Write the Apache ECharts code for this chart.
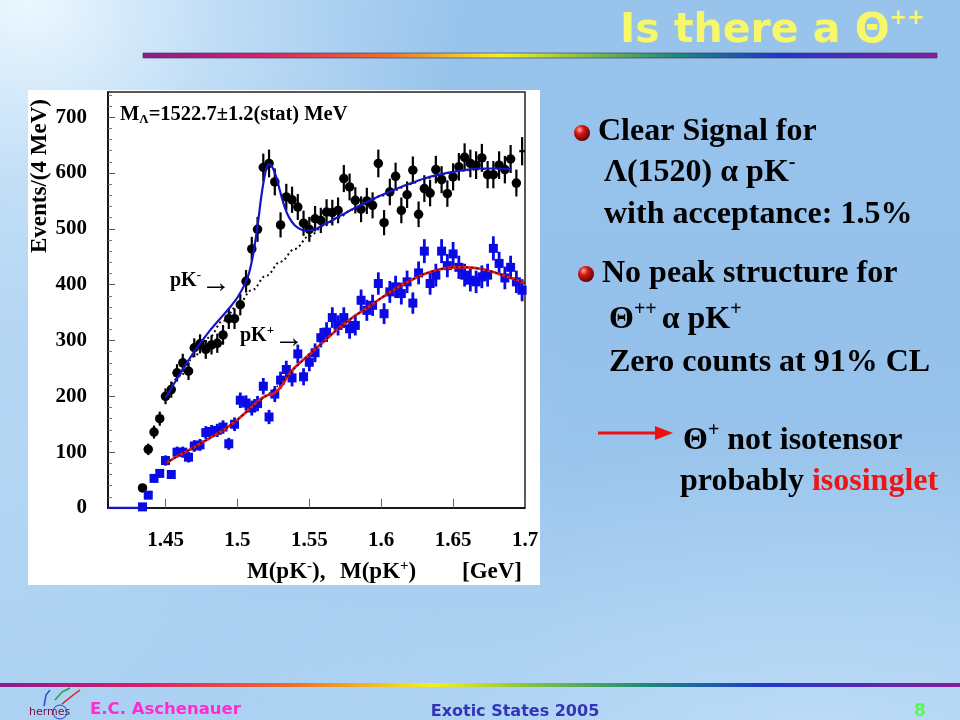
<!DOCTYPE html>
<html><head><meta charset="utf-8">
<script src="https://cdn.jsdelivr.net/npm/echarts@6/dist/echarts.min.js"></script>
<style>
html,body{margin:0;padding:0;width:960px;height:720px;overflow:hidden;}
body{
  background:
    radial-gradient(ellipse 45% 55% at 3% 0%, rgba(240,250,255,0.95) 0%, rgba(215,236,252,0.6) 45%, rgba(190,222,248,0) 100%),
    radial-gradient(ellipse 70% 45% at 85% 105%, rgba(200,228,250,0.7) 0%, rgba(180,215,245,0) 100%),
    radial-gradient(ellipse 60% 70% at 0% 60%, rgba(200,228,250,0.6) 0%, rgba(180,215,245,0) 100%),
    linear-gradient(180deg, #98c4ec 0%, #94c0ea 45%, #a3cbef 100%);
}
#c{width:960px;height:720px;}
</style></head><body><div id="c"></div>
<script>
// ---- data ----
const massBins = [1.434,1.438,1.442,1.446,1.450,1.454,1.458,1.462,1.466,1.470,1.474,1.478,1.482,1.486,1.490,1.494,1.498,
  1.502,1.506,1.510,1.514,1.518,1.522,1.526,1.530,1.534,1.538,1.542,1.546,1.550,1.554,1.558,1.562,1.566,1.570,1.574,1.578,
  1.582,1.586,1.590,1.594,1.598,1.602,1.606,1.610,1.614,1.618,1.622,1.626,1.630,1.634,1.638,1.642,1.646,1.650,1.654,1.658,
  1.662,1.666,1.670,1.674,1.678,1.682,1.686,1.690,1.694,1.698];
const countsKMinus = [36,105,136,160,200,212,242,260,245,287,294,284,292,295,310,339,339,
  364,406,464,499,610,617,584,507,557,552,539,510,499,518,515,530,529,533,590,575,
  551,535,550,542,617,511,566,594,533,561,605,526,572,564,606,588,563,593,611,628,
  617,614,627,597,597,614,606,625,582,639];
const countsKPlus = [2,23,53,62,85,60,100,100,91,111,113,135,137,139,145,115,150,
  193,188,179,187,218,163,204,229,248,233,276,235,261,278,305,315,341,327,341,321,
  327,372,354,363,402,348,387,396,384,405,367,421,460,402,417,460,434,455,431,417,
  408,405,414,417,465,438,412,431,405,390];
const fitKMinus = [[1.45,197],[1.46,240],[1.47,280],[1.48,315],[1.49,345],[1.495,360],[1.50,377],[1.505,400],
  [1.508,420],[1.511,455],[1.514,505],[1.517,565],[1.520,607],[1.522,616],[1.524,612],[1.527,593],[1.530,564],
  [1.533,538],[1.536,520],[1.540,506],[1.545,498],[1.55,497],[1.555,500],[1.56,507],[1.57,521],[1.58,535],
  [1.59,548],[1.60,560],[1.61,571],[1.62,581],[1.63,590],[1.64,597],[1.65,602],[1.66,606],[1.67,608],[1.68,608],[1.69,607]];
const bgKMinus = [[1.45,197],[1.46,236],[1.47,272],[1.48,305],[1.49,335],[1.50,362],[1.51,390],[1.52,416],[1.53,441],
  [1.54,464],[1.55,487],[1.56,505],[1.57,520],[1.58,534],[1.59,547],[1.60,559],[1.61,570],[1.62,580],[1.63,589],
  [1.64,596],[1.65,601],[1.66,605],[1.67,607],[1.68,607],[1.69,606]];
const fitKPlus = [[1.45,80],[1.46,95],[1.47,109],[1.48,124],[1.49,139],[1.50,158],[1.51,181],[1.515,193],[1.52,201],
  [1.525,205],[1.53,216],[1.535,236],[1.54,252],[1.55,275],[1.56,298],[1.57,321],[1.58,341],[1.59,358],[1.60,376],
  [1.61,393],[1.62,407],[1.63,419],[1.64,427],[1.65,431],[1.66,431],[1.67,428],[1.68,421],[1.69,412],[1.70,403]];
const bgKPlus = [[1.45,80],[1.46,95],[1.47,109],[1.48,124],[1.49,139],[1.50,158],[1.51,180],[1.52,201],[1.53,223],
  [1.54,250],[1.55,275],[1.56,298],[1.57,321],[1.58,341],[1.59,358],[1.60,376],[1.61,393],[1.62,407],[1.63,419],
  [1.64,427],[1.65,431],[1.66,431],[1.67,428],[1.68,421],[1.69,412],[1.70,403]];
const belowThreshold = [[1.41,0],[1.435,0]];
const xTickValues = [1.45,1.5,1.55,1.6,1.65,1.7];
const yTickValues = [0,100,200,300,400,500,600,700];
const yMinorTicks = [20,40,60,80,120,140,160,180,220,240,260,280,320,340,360,380,420,440,460,480,
  520,540,560,580,620,640,660,680,720,740];

// ---- chart ----
const SERIF = '"Liberation Serif","Times New Roman",serif';
const COMIC = '"DejaVu Sans",sans-serif';
const chart = echarts.init(document.getElementById('c'), null, {renderer:'canvas'});

function errorBars(counts, color, width) {
  return {
    type:'custom', silent:true, clip:true, z:3,
    data: massBins.map((m,i)=>[m, counts[i]]),
    renderItem(params, api) {
      const x = api.value(0), y = api.value(1);
      const e = Math.sqrt(y);
      const p1 = api.coord([x, y+e]), p2 = api.coord([x, Math.max(0, y-e)]);
      const h1 = api.coord([x-0.002, y]), h2 = api.coord([x+0.002, y]);
      return {type:'group', children:[
        {type:'line', shape:{x1:p1[0],y1:p1[1],x2:p2[0],y2:p2[1]}, style:{stroke:color, lineWidth:width}},
        {type:'line', shape:{x1:h1[0],y1:h1[1],x2:h2[0],y2:h2[1]}, style:{stroke:color, lineWidth:width}}
      ]};
    }
  };
}

const mainTok = {fontFamily:SERIF, fontWeight:'bold', fontSize:32, lineHeight:40, fill:'#000'};
const supTok = {fontFamily:SERIF, fontWeight:'bold', fontSize:20, lineHeight:20, verticalAlign:'top', fill:'#000'};
function rt(x, y, text, rich, extra) {
  return Object.assign({type:'text', x:x, y:y, z:100, style:{text:text, rich:rich,
    align:'left', textAlign:'left', verticalAlign:'middle', textVerticalAlign:'middle'}}, extra||{});
}
function bullet(cx, cy) {
  return {type:'circle', z:100, shape:{cx:cx, cy:cy, r:8}, style:{
    fill: new echarts.graphic.RadialGradient(0.35,0.3,0.75,[
      {offset:0,color:'#ffb0a0'},{offset:0.35,color:'#d81818'},{offset:1,color:'#5a0000'}])}};
}
const rainbowStops = [
  {offset:0,color:'#8a1c8c'},{offset:0.15,color:'#d8206c'},{offset:0.3,color:'#ee6a2a'},
  {offset:0.45,color:'#f4f020'},{offset:0.56,color:'#7cc040'},{offset:0.67,color:'#1f8a7a'},
  {offset:0.8,color:'#2038d0'},{offset:1,color:'#8a1ca0'}];
const axisTitleTok = {
  a:{fontFamily:SERIF, fontWeight:'bold', fontSize:23, lineHeight:26, fill:'#000'},
  s:{fontFamily:SERIF, fontWeight:'bold', fontSize:15, lineHeight:14, verticalAlign:'top', fill:'#000'}};
const arrowLabelTok = {
  a:{fontFamily:SERIF, fontWeight:'bold', fontSize:20, lineHeight:24, fill:'#000'},
  s:{fontFamily:SERIF, fontWeight:'bold', fontSize:13, lineHeight:13, verticalAlign:'top', fill:'#000'},
  r:{fontFamily:SERIF, fontWeight:'normal', fontSize:30, lineHeight:22, verticalAlign:'top', fill:'#000'}};

const option = {
  backgroundColor:'transparent',
  animation:false,
  grid:{left:108, top:92, width:417, height:416, show:true, borderColor:'#222', borderWidth:1.5, backgroundColor:'#fff'},
  xAxis:{type:'value', min:1.41, max:1.70,
    axisLine:{show:true, onZero:false, lineStyle:{color:'#000', width:1.5}},
    axisTick:{show:true, inside:true, length:9, customValues:xTickValues, lineStyle:{color:'#666', width:1}},
    axisLabel:{customValues:xTickValues, margin:22, formatter:v=>String(+(+v).toFixed(2)),
      fontFamily:SERIF, fontWeight:'bold', fontSize:21, color:'#000'},
    splitLine:{show:false}},
  yAxis:[
    {type:'value', min:0, max:745, position:'left',
      axisLine:{show:true, lineStyle:{color:'#000', width:1.5}},
      axisTick:{show:true, inside:true, length:7, customValues:yTickValues, lineStyle:{color:'#555', width:1}},
      axisLabel:{customValues:yTickValues, margin:21, fontFamily:SERIF, fontWeight:'bold', fontSize:21, color:'#000'},
      splitLine:{show:false}},
    {type:'value', min:0, max:745, position:'left',
      axisLine:{show:false},
      axisTick:{show:true, inside:true, length:4, customValues:yMinorTicks, lineStyle:{color:'#777', width:1}},
      axisLabel:{show:false}, splitLine:{show:false}}
  ],
  series:[
    errorBars(countsKMinus, '#000', 2.2),
    {type:'scatter', silent:true, z:4, symbol:'circle', symbolSize:(v)=> v[0] > 1.697 ? 0 : 9.5,
      itemStyle:{color:'#000', opacity:1}, data: massBins.map((m,i)=>[m, countsKMinus[i]])},
    errorBars(countsKPlus, '#0a0ae6', 2.8),
    {type:'scatter', silent:true, z:4, symbol:'rect', symbolSize:9,
      itemStyle:{color:'#0a0ae6', opacity:1}, data: massBins.map((m,i)=>[m, countsKPlus[i]])},
    {type:'line', silent:true, z:5, data:belowThreshold, showSymbol:false, symbol:'none',
      lineStyle:{color:'#1515d0', width:2.5}},
    {type:'line', silent:true, z:5, data:bgKMinus, smooth:0.4, smoothMonotone:'x', symbol:'none',
      lineStyle:{color:'#111', width:2, type:[2,3]}},
    {type:'line', silent:true, z:6, data:fitKMinus, smooth:0.25, symbol:'none',
      lineStyle:{color:'#1515c8', width:2.2}},
    {type:'line', silent:true, z:5, data:fitKPlus, smooth:0.3, symbol:'none',
      lineStyle:{color:'#e01a1a', width:2.6}},
    {type:'line', silent:true, z:6, data:bgKPlus, smooth:0.3, symbol:'none',
      lineStyle:{color:'#200000', width:1.2, type:[2,3]}}
  ],
  graphic:[
    {type:'rect', z:-100, shape:{x:28, y:90, width:512, height:495}, style:{fill:'#ffffff'}},
    {type:'rect', z:50, shape:{x:143, y:53, width:794, height:5},
      style:{fill:new echarts.graphic.LinearGradient(0,0,1,0,rainbowStops), stroke:'#3a3050', lineWidth:0.6}},
    {type:'rect', z:50, shape:{x:0, y:683, width:960, height:4},
      style:{fill:new echarts.graphic.LinearGradient(0,0,1,0,rainbowStops)}},
    // title
    rt(620, 31, '{t|Is there a Θ}{s|++}', {
      t:{fontFamily:COMIC, fontWeight:'bold', fontSize:41, lineHeight:46, fill:'#f7f76a'},
      s:{fontFamily:COMIC, fontWeight:'bold', fontSize:21, lineHeight:22, verticalAlign:'top', fill:'#f7f76a'}}),
    // y axis name
    {type:'text', z:100, x:40, y:176, rotation:Math.PI/2, style:{text:'Events/(4 MeV)',
      font:'bold 23px '+SERIF, fill:'#000', align:'center', textAlign:'center', verticalAlign:'middle', textVerticalAlign:'middle'}},
    // x axis name
    rt(247, 572, '{a|M(pK}{s|-}{a|),}', axisTitleTok),
    rt(340, 572, '{a|M(pK}{s|+}{a|)}', axisTitleTok),
    rt(462, 572, '{a|[GeV]}', axisTitleTok),
    // mass annotation
    rt(120, 115, '{a|M}{b|Λ}{a|=1522.7±1.2(stat) MeV}', {
      a:{fontFamily:SERIF, fontWeight:'bold', fontSize:20.5, lineHeight:22, fill:'#000'},
      b:{fontFamily:SERIF, fontWeight:'bold', fontSize:13, lineHeight:12, verticalAlign:'bottom', fill:'#000'}}),
    rt(170, 281, '{a|pK}{s|-}{r|→}', arrowLabelTok),
    rt(240, 336, '{a|pK}{s|+}{r|→}', arrowLabelTok),
    // right-hand text
    bullet(582, 133),
    rt(598, 132, '{m|Clear Signal for}', {m:mainTok}),
    rt(604, 173, '{m|Λ(1520) α pK}{s|-}', {m:mainTok, s:supTok}),
    rt(604, 215, '{m|with acceptance: 1.5%}', {m:mainTok}),
    bullet(586, 274),
    rt(602, 274, '{m|No peak structure for}', {m:mainTok}),
    rt(609, 320, '{m|Θ}{s|++ }{m|α pK}{s|+}', {m:mainTok, s:supTok}),
    rt(609, 363, '{m|Zero counts at 91% CL}', {m:mainTok}),
    {type:'line', z:100, shape:{x1:598, y1:433, x2:660, y2:433}, style:{stroke:'#ee1111', lineWidth:3}},
    {type:'polygon', z:100, shape:{points:[[655,426],[673,433],[655,440]]}, style:{fill:'#ee1111'}},
    rt(683, 441, '{m|Θ}{s|+}{m| not isotensor}', {m:mainTok, s:supTok}),
    rt(680, 482, '{m|probably }{r|isosinglet}', {m:mainTok,
      r:{fontFamily:SERIF, fontWeight:'bold', fontSize:32, lineHeight:40, fill:'#ee1515'}}),
    // footer
    {type:'text', z:100, x:29, y:712, style:{text:'hermes', font:'11px '+COMIC, fill:'#7a1040',
      align:'left', textAlign:'left', verticalAlign:'middle', textVerticalAlign:'middle'}},
    {type:'polyline', z:100, shape:{points:[[44,706],[46,695],[50,690]]}, style:{stroke:'#2050d0', lineWidth:1.5, fill:null}},
    {type:'polyline', z:100, shape:{points:[[55,700],[62,692],[70,688]]}, style:{stroke:'#20a040', lineWidth:1.5, fill:null}},
    {type:'polyline', z:100, shape:{points:[[62,704],[72,696],[80,690]]}, style:{stroke:'#d02020', lineWidth:1.5, fill:null}},
    {type:'circle', z:100, shape:{cx:60, cy:712, r:7}, style:{stroke:'#2040c0', lineWidth:1, fill:null}},
    {type:'text', z:100, x:90, y:710, style:{text:'E.C. Aschenauer', font:'bold 16.5px '+COMIC, fill:'#ff2bd0',
      align:'left', textAlign:'left', verticalAlign:'middle', textVerticalAlign:'middle'}},
    {type:'text', z:100, x:515, y:712, style:{text:'Exotic States 2005', font:'bold 16px '+COMIC, fill:'#3434b8',
      align:'center', textAlign:'center', verticalAlign:'middle', textVerticalAlign:'middle'}},
    {type:'text', z:100, x:920, y:712, style:{text:'8', font:'bold 17px '+COMIC, fill:'#55f855',
      align:'center', textAlign:'center', verticalAlign:'middle', textVerticalAlign:'middle'}}
  ]
};
chart.setOption(option);
</script></body></html>
